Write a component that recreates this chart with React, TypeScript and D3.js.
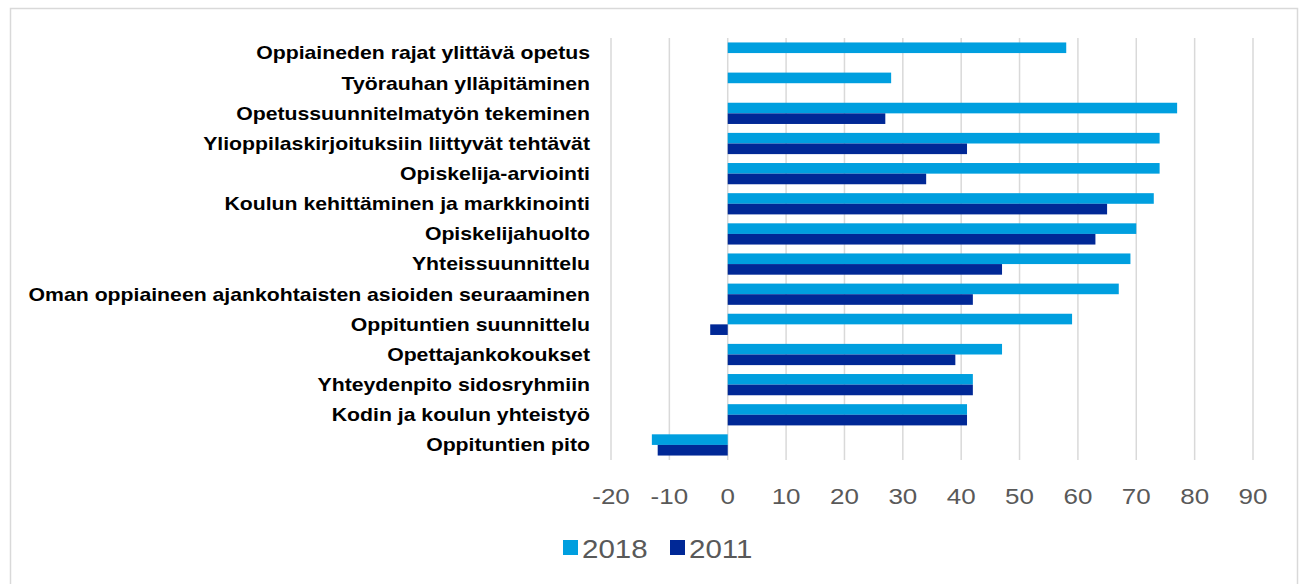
import React from "react";
import * as d3 from "d3";

const categories = [
  "Oppiaineden rajat ylittävä opetus",
  "Työrauhan ylläpitäminen",
  "Opetussuunnitelmatyön tekeminen",
  "Ylioppilaskirjoituksiin liittyvät tehtävät",
  "Opiskelija-arviointi",
  "Koulun kehittäminen ja markkinointi",
  "Opiskelijahuolto",
  "Yhteissuunnittelu",
  "Oman oppiaineen ajankohtaisten asioiden seuraaminen",
  "Oppituntien suunnittelu",
  "Opettajankokoukset",
  "Yhteydenpito sidosryhmiin",
  "Kodin ja koulun yhteistyö",
  "Oppituntien pito",
];
const values2018: (number | null)[] = [58, 28, 77, 74, 74, 73, 70, 69, 67, 59, 47, 42, 41, -13];
const values2011: (number | null)[] = [null, null, 27, 41, 34, 65, 63, 47, 42, -3, 39, 42, 41, -12];
const seriesNames = ["2018", "2011"];
const seriesColors = ["#009FDF", "#002896"];
const xTicks = [-20, -10, 0, 10, 20, 30, 40, 50, 60, 70, 80, 90];

const FONT = "Liberation Sans, Arial, sans-serif";
const SX = 1.18;

export default function App() {
  const W = 1304, H = 584;
  const x = d3.scaleLinear().domain([-20, 90]).range([611, 1253]);
  const y = d3.scaleBand<string>().domain(categories).range([38, 460]);
  const sub = d3.scaleBand<string>().domain(seriesNames).range([0, y.bandwidth()]).paddingInner(0).paddingOuter(0.42);
  const series = [values2018, values2011];
  return (
    <svg width={W} height={H} style={{ position: "absolute", left: 0, top: 0 }}>
      <rect x={0} y={0} width={W} height={H} fill="#fff" />
      <rect x={10.5} y={8.5} width={1287} height={600} fill="#fff" stroke="#d9d9d9" strokeWidth={1.5} />
      {xTicks.map((t) => (
        <line key={t} x1={x(t)} x2={x(t)} y1={38} y2={460} stroke="#d9d9d9" strokeWidth={1.5} />
      ))}
      {series.map((vals, si) =>
        vals.map((v, i) =>
          v === null ? null : (
            <rect
              key={si + "-" + i}
              x={Math.min(x(0), x(v))}
              y={(y(categories[i]) as number) + (sub(seriesNames[si]) as number)}
              width={Math.abs(x(v) - x(0))}
              height={sub.bandwidth()}
              fill={seriesColors[si]}
            />
          )
        )
      )}
      {categories.map((c) => (
        <text
          key={c}
          transform={`translate(590,${(y(c) as number) + y.bandwidth() / 2}) scale(${SX},1)`}
          dy="0.35em"
          textAnchor="end"
          fontFamily={FONT}
          fontWeight="bold"
          fontSize={18}
          fill="#000"
        >
          {c}
        </text>
      ))}
      {xTicks.map((t) => (
        <text
          key={"l" + t}
          transform={`translate(${x(t)},504) scale(${SX},1)`}
          textAnchor="middle"
          fontFamily={FONT}
          fontSize={22}
          fill="#595959"
        >
          {t}
        </text>
      ))}
      {seriesNames.map((s, i) => {
        const lx = i === 0 ? 563 : 670;
        return (
          <g key={s}>
            <rect x={lx} y={540} width={15} height={15} fill={seriesColors[i]} />
            <text
              transform={`translate(${lx + 19},558) scale(${SX},1)`}
              fontFamily={FONT}
              fontSize={25}
              fill="#595959"
            >
              {s}
            </text>
          </g>
        );
      })}
    </svg>
  );
}
